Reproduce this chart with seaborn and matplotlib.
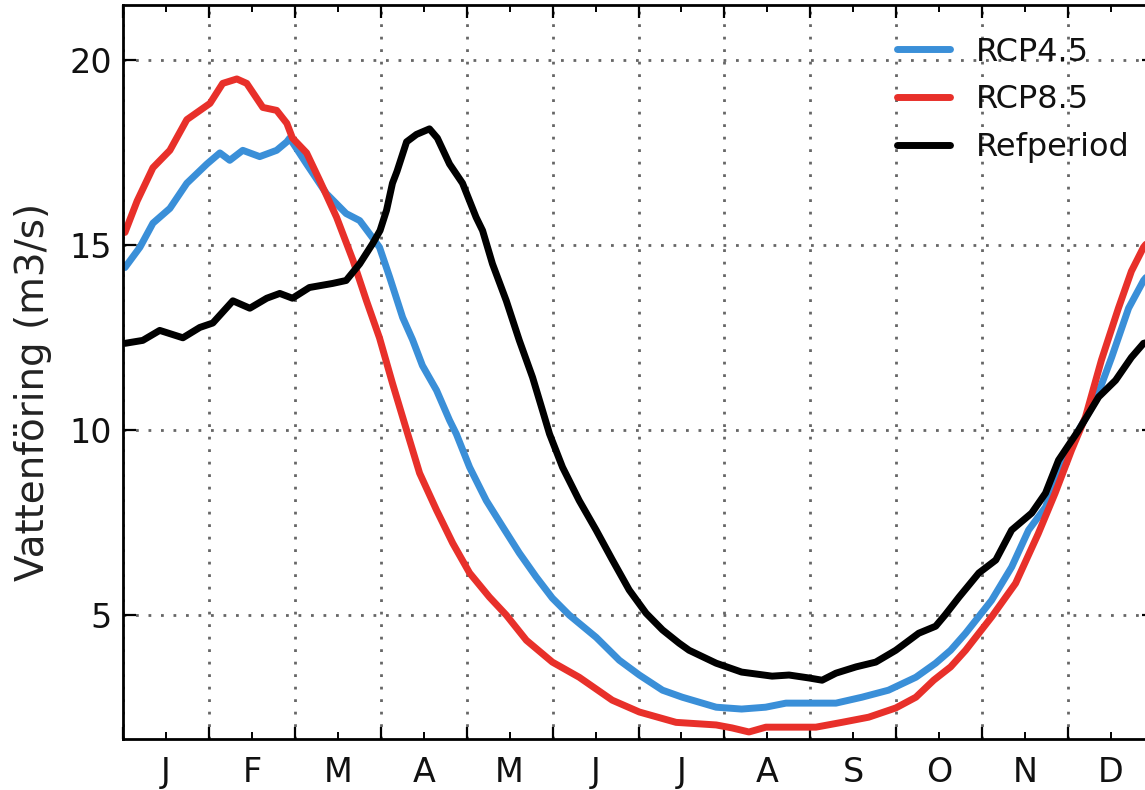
import matplotlib
matplotlib.use("Agg")
import matplotlib.pyplot as plt
import seaborn as sns
import numpy as np
from matplotlib.ticker import FixedLocator, NullFormatter, FixedFormatter

# ---- data (day of year -> flow, m3/s) ----
month_labels = ["J", "F", "M", "A", "M", "J", "J", "A", "S", "O", "N", "D"]

rcp45_day = [0.7, 6, 10.6, 16.6, 22.6, 29.7, 34.3, 37.8, 42.4, 48.4, 54.4, 58, 59, 65, 72, 79,
             83.8, 88.4, 90.8, 94.4, 99, 102.5, 106, 111, 115.6, 118, 122.7, 128.6, 134.5, 140.3,
             146.3, 152, 158, 167.5, 175.7, 182.8, 191, 198, 210, 219, 227.5, 234.7, 242.9, 252.4,
             261.6, 271, 280.7, 287.7, 293, 298.3, 307.5, 314.6, 320.6, 326.6, 332.3, 338.3, 344.3,
             350, 356, 361.3, 364]
rcp45_val = [14.4, 14.95, 15.6, 16.0, 16.68, 17.2, 17.5, 17.3, 17.57, 17.4, 17.57, 17.8, 17.9, 17.2,
             16.4, 15.86, 15.67, 15.2, 14.95, 14.14, 13.05, 12.45, 11.75, 11.08, 10.27, 9.9, 9.0, 8.1,
             7.38, 6.68, 6.03, 5.46, 5.0, 4.4, 3.78, 3.38, 2.97, 2.78, 2.51, 2.46, 2.51, 2.62, 2.62,
             2.62, 2.78, 2.97, 3.32, 3.7, 4.05, 4.51, 5.4, 6.3, 7.3, 7.92, 9.1, 10.0, 10.8, 11.97,
             13.3, 14.05, 14.3]

rcp85_day = [0.7, 5, 10.6, 16.6, 22.6, 30.8, 35.3, 40.3, 43.8, 49.5, 54.4, 58, 60, 65, 69.6, 75.6,
             81.4, 86.2, 90.8, 95.4, 100.4, 105, 111, 116.7, 122.7, 129.7, 135.7, 142.8, 152, 161.5,
             173.2, 182.8, 195.8, 210, 215.6, 221.6, 227.6, 235.8, 245.3, 254.5, 264, 273.6, 280.7,
             287, 293, 298.3, 307.5, 316, 324, 330, 335.8, 340.7, 346.4, 352.4, 357, 361.3, 364]
rcp85_val = [15.35, 16.2, 17.1, 17.57, 18.4, 18.84, 19.38, 19.5, 19.38, 18.73, 18.65, 18.3, 17.9,
             17.5, 16.76, 15.76, 14.6, 13.5, 12.5, 11.27, 10.0, 8.84, 7.84, 6.95, 6.14, 5.49, 5.0,
             4.32, 3.73, 3.32, 2.7, 2.38, 2.1, 2.03, 1.95, 1.84, 1.97, 1.97, 1.97, 2.1, 2.24, 2.49,
             2.78, 3.24, 3.6, 4.05, 4.95, 5.86, 7.2, 8.3, 9.46, 10.35, 11.9, 13.3, 14.3, 14.95, 15.2]

ref_day = [0.7, 7, 13, 21.2, 27.2, 31.8, 38.9, 44.9, 50.9, 55.5, 60, 66, 74.2, 79, 83.8, 88.4, 91,
           93.3, 95.4, 97, 100.4, 103.9, 108.5, 111.3, 115.6, 120.2, 125, 127.3, 130.8, 135.7,
           140.3, 145, 148.5, 151, 155.6, 161.5, 167.5, 173.2, 179.2, 185.2, 191, 196.9, 200.4,
           210, 219, 229.8, 235.8, 242.9, 247.5, 252.4, 259.5, 266.5, 273.6, 281.7, 287.7, 291,
           296, 303, 309, 314.6, 321.7, 326.6, 331.2, 338.3, 345.4, 351.4, 357, 361.3, 364]
ref_val = [12.35, 12.43, 12.7, 12.5, 12.78, 12.9, 13.5, 13.3, 13.57, 13.7, 13.57, 13.86, 13.97,
           14.05, 14.5, 15.05, 15.4, 15.95, 16.68, 17.0, 17.8, 18.0, 18.15, 17.9, 17.2, 16.68,
           15.76, 15.4, 14.5, 13.5, 12.43, 11.43, 10.54, 9.9, 9.0, 8.1, 7.3, 6.5, 5.68, 5.05, 4.6,
           4.24, 4.05, 3.7, 3.46, 3.35, 3.38, 3.3, 3.24, 3.43, 3.6, 3.73, 4.05, 4.51, 4.7, 5.0,
           5.49, 6.14, 6.49, 7.3, 7.76, 8.3, 9.19, 10.0, 10.9, 11.35, 11.97, 12.35, 12.4]

series = [
    ("RCP4.5", rcp45_day, rcp45_val, "#3a8fd8"),
    ("RCP8.5", rcp85_day, rcp85_val, "#e8302a"),
    ("Refperiod", ref_day, ref_val, "#000000"),
]

# ---- figure ----
sns.set_style("ticks")
plt.rcParams["font.family"] = ["DejaVu Sans"]
plt.rcParams["text.color"] = "#111111"
plt.rcParams["axes.labelcolor"] = "#111111"

fig = plt.figure(figsize=(11.45, 7.90), dpi=100)
ax = fig.add_axes([123 / 1145, 51 / 790, 1031 / 1145, 734 / 790])

for name, d, v, c in series:
    sns.lineplot(x=d, y=v, ax=ax, color=c, lw=5, label=name, sort=False,
                 solid_capstyle="round", solid_joinstyle="round")

ax.set_xlim(0, 365)
ax.set_ylim(1.65, 21.5)

mlen = 365 / 12
ax.xaxis.set_major_locator(FixedLocator([k * mlen for k in range(13)]))
ax.xaxis.set_major_formatter(NullFormatter())
ax.xaxis.set_minor_locator(FixedLocator([(k + 0.5) * mlen for k in range(12)]))
ax.xaxis.set_minor_formatter(FixedFormatter(month_labels))
ax.set_yticks([5, 10, 15, 20])

ax.tick_params(axis="both", which="major", direction="in", length=9, width=1.6,
               top=True, right=True, labelsize=24, color="black", labelcolor="#111111", pad=8)
ax.tick_params(axis="x", which="minor", direction="in", length=5, width=1.4,
               top=True, labelsize=24, color="black", labelcolor="#111111", pad=12)

for s in ax.spines.values():
    s.set_linewidth(2.0)
    s.set_color("black")
    s.set_visible(True)

ax.grid(True, which="major", color="#666666", linestyle=(0, (1, 3.5)), linewidth=2)
ax.set_axisbelow(True)

ax.set_ylabel("Vattenföring (m3/s)", fontsize=28, color="#222222")
ax.yaxis.set_label_coords(-0.069, 0.473)
ax.set_xlabel("")

leg = ax.legend(loc="upper left", bbox_to_anchor=(0.751, 0.957), frameon=False,
                fontsize=23, handlelength=1.65, handletextpad=0.8, labelspacing=0.52,
                borderaxespad=0, borderpad=0)
for h in leg.get_lines():
    h.set_linewidth(5)
for t in leg.get_texts():
    t.set_color("#111111")

fig.savefig("out.png", dpi=100)
